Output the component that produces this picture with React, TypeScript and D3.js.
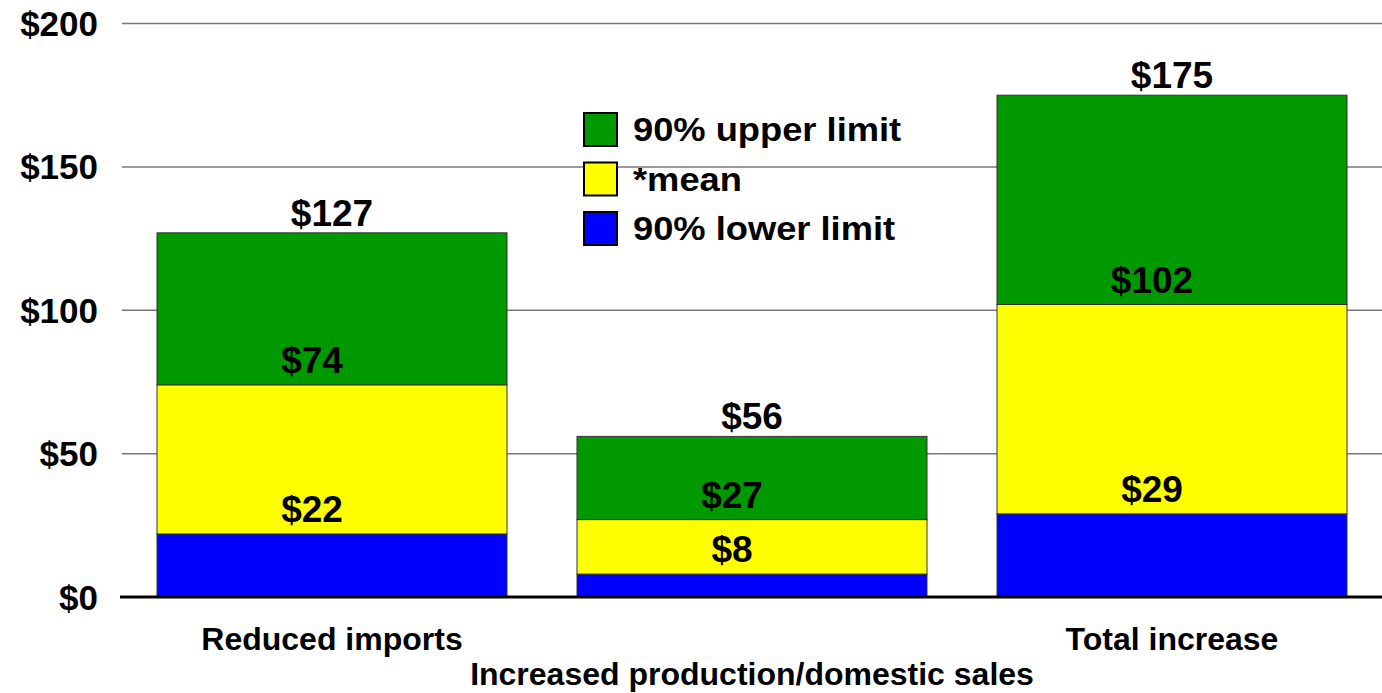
import React from "react";
import * as d3 from "d3";

// categories + the three stacked values (lower limit, mean, upper limit)
const categories = ["Reduced imports", "Increased production/domestic sales", "Total increase"];
const lowerLimit = [22, 8, 29];
const meanValue = [74, 27, 102];
const upperLimit = [127, 56, 175];
const yTicks = [0, 50, 100, 150, 200];
const legendItems = [
  { label: "90% upper limit", color: "#009900" },
  { label: "*mean", color: "#ffff00" },
  { label: "90% lower limit", color: "#0000ff" },
];

const W = 1382;
const H = 693;
const FONT = "'Liberation Sans', Arial, sans-serif";

export default function App() {
  const x = d3.scaleBand<string>().domain(categories).range([122, 1382]).paddingInner(1 / 6).paddingOuter(1 / 12);
  const y = d3.scaleLinear().domain([0, 200]).range([597, 23.5]);
  const bw = x.bandwidth();

  const segs = categories.flatMap((c, i) => [
    { c, y0: 0, y1: lowerLimit[i], fill: "#0000ff" },
    { c, y0: lowerLimit[i], y1: meanValue[i], fill: "#ffff00" },
    { c, y0: meanValue[i], y1: upperLimit[i], fill: "#009900" },
  ]);

  return (
    <svg width={W} height={H} style={{ position: "absolute", left: 0, top: 0, background: "#fff" }}
      fontFamily={FONT} fontWeight="bold">
      {/* gridlines */}
      {yTicks.filter(t => t > 0).map(t => (
        <line key={t} x1={122} x2={1382} y1={y(t)} y2={y(t)} stroke="#777" strokeWidth={1.5} />
      ))}
      {yTicks.map(t => (
        <text key={"l" + t} x={98} y={y(t)} dy="0.36em" textAnchor="end" fontSize={35}>${t}</text>
      ))}

      {/* bars */}
      {segs.map((s, k) => (
        <rect key={k} x={x(s.c)!} width={bw} y={y(s.y1)} height={y(s.y0) - y(s.y1)}
          fill={s.fill} stroke="#333" strokeWidth={1} />
      ))}

      <line x1={120} x2={1382} y1={y(0)} y2={y(0)} stroke="#000" strokeWidth={3} />

      {/* value labels */}
      {categories.map((c, i) => {
        const cx = x(c)! + bw / 2;
        return (
          <g key={"v" + i} fontSize={37} textAnchor="middle">
            <text x={cx} y={y(upperLimit[i]) - 7}>${upperLimit[i]}</text>
            <text x={cx - 20} y={y(meanValue[i]) - 12}>${meanValue[i]}</text>
            <text x={cx - 20} y={y(lowerLimit[i]) - 12}>${lowerLimit[i]}</text>
          </g>
        );
      })}

      {/* category labels, middle one staggered */}
      {categories.map((c, i) => (
        <text key={"c" + i} x={x(c)! + bw / 2} y={i === 1 ? 685 : 650} textAnchor="middle" fontSize={32}>{c}</text>
      ))}

      {/* legend */}
      {legendItems.map((d, i) => (
        <g key={"lg" + i} transform={`translate(583,${112 + i * 49.5})`}>
          <rect x={1} y={1} width={33} height={33} fill={d.color} stroke="#000" strokeWidth={2} />
          <text transform="translate(50,17.5) scale(1.1,1)" dy="0.36em" fontSize={33}>{d.label}</text>
        </g>
      ))}
    </svg>
  );
}
